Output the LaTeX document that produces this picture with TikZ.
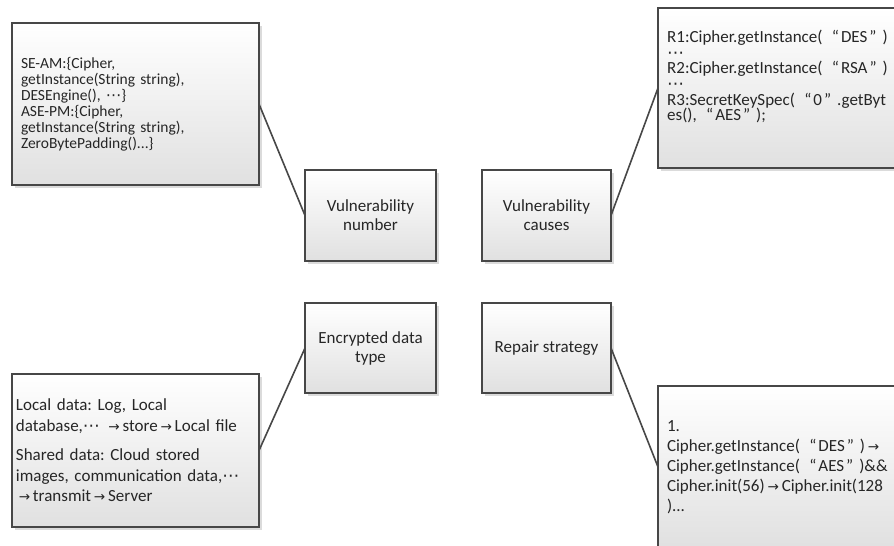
\documentclass[tikz,border=0pt]{standalone}
\usepackage{fontspec}
\setmainfont{Carlito}
\newfontfamily\djv{DejaVu Sans}
\usetikzlibrary{shadows,calc}
\newcommand{\qq}[1]{\hspace{0.55em}“\hspace{0.12em}#1\hspace{0.12em}”\hspace{0.35em}}
\newcommand{\myarr}{\makebox[1em][c]{\djv\fontsize{0.8em}{1em}\selectfont →}}
\newcommand{\mydots}{{\djv ⋯}}
\frenchspacing
\begin{document}
\begin{tikzpicture}[x=1pt,y=-1pt,
  box/.style={draw=black!72, line width=1.1pt, top color=white, bottom color=black!12,
    drop shadow={shadow xshift=2.5pt,shadow yshift=-2.5pt,fill=black!14,opacity=1},
    inner sep=0pt, outer sep=0pt},
  midbox/.style={box, align=center, font={\fontsize{17pt}{19pt}\selectfont}, text=black!85},
  link/.style={draw=black!72, line width=1.6pt},
  txt/.style={align=left, inner sep=0pt, text=black!85}]
\useasboundingbox (0,0) rectangle (894,546);
\clip (0,0) rectangle (894,546);
\fill[white] (0,0) rectangle (894,546);

% top-left
\node[box, txt, text width=229pt, inner xsep=9pt, minimum height=162pt,
  font={\fontsize{15.5pt}{16pt}\selectfont}] (TL) at (135.5,104)
  {SE-AM:\{Cipher,\\getInstance(String string),\\DESEngine(), \mydots\}\\ASE-PM:\{Cipher,\\getInstance(String string),\\ZeroBytePadding()...\}};

% top-right
\node[box, minimum width=320pt, minimum height=160pt] (TR) at (818,88) {};
\node[txt, anchor=north west, font={\fontsize{17pt}{15.6pt}\selectfont}] (TRt) at (667,30)
  {R1:Cipher.getInstance(\qq{DES})\\\mydots\\R2:Cipher.getInstance(\qq{RSA})\\\mydots\\R3:SecretKeySpec(\qq{0}.getByt\\es(),\qq{AES});};

% middle boxes
\node[midbox, minimum width=131pt, minimum height=91pt] (VN) at (370.5,215.5) {Vulnerability\\number};
\node[midbox, minimum width=129pt, minimum height=91pt] (VC) at (546.5,215.5) {Vulnerability\\causes};
\node[midbox, minimum width=131pt, minimum height=90pt] (ED) at (370.5,348) {Encrypted data\\type};
\node[midbox, minimum width=129pt, minimum height=90pt] (RS) at (546.5,348) {Repair strategy};

% bottom-left
\node[box, txt, text width=239pt, inner xsep=4pt, minimum height=153pt,
  font={\fontsize{17pt}{20.5pt}\selectfont}] (BL) at (135.5,450.5)
  {Local data: Log, Local\\database,\mydots\ \myarr store\myarr Local file\\[9pt]Shared data: Cloud stored\\images, communication data,\mydots\\\myarr transmit\myarr Server};

% bottom-right
\node[box, txt, text width=302pt, inner xsep=9pt, minimum height=162pt,
  font={\fontsize{17pt}{20pt}\selectfont}] (BR) at (818,467)
  {1.\\Cipher.getInstance(\qq{DES})\myarr\\Cipher.getInstance(\qq{AES})\&\&\\Cipher.init(56)\myarr Cipher.init(128\\)...};

% connectors
\draw[link] (TL.east) -- (VN.west);
\draw[link] (VC.east) -- (TR.west);
\draw[link] (BL.east) -- (ED.west);
\draw[link] (RS.east) -- (BR.west);
\end{tikzpicture}
\end{document}
